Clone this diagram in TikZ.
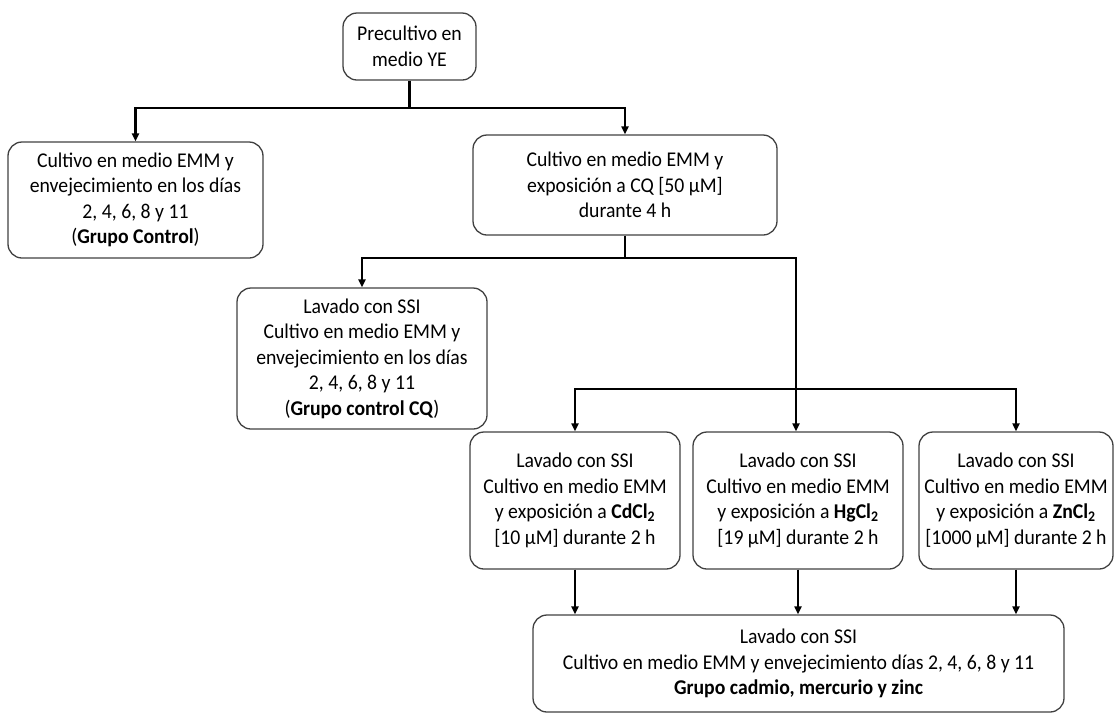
\documentclass[tikz,border=0pt]{standalone}
\usepackage{fontspec}
\setmainfont{Carlito}[FakeStretch=0.94]
\usetikzlibrary{arrows.meta}
\tikzset{
  box/.style={draw=black!75, line width=1.3pt, rounded corners=14pt, align=center,
    inner sep=0pt, font=\fontsize{21}{25.5}\selectfont},
  conn/.style={draw=black, line width=2.6pt},
  arr/.style={conn, -{Triangle[length=8pt,width=7pt]}}
}
\begin{document}
\begin{tikzpicture}[x=1pt,y=-1pt]
\useasboundingbox (0,0) rectangle (1115,713);
\node[box, minimum width=133pt, minimum height=67pt] (top) at (409.5,46.5) {Precultivo en\\medio YE};
\node[box, minimum width=255pt, minimum height=116pt] (ctrl) at (135.5,200) {Cultivo en medio EMM y\\envejecimiento en los días\\2, 4, 6, 8 y 11\\(\textbf{Grupo Control})};
\node[box, minimum width=304pt, minimum height=100pt] (cq) at (625,185) {Cultivo en medio EMM y\\exposición a CQ {[}50 µM{]}\\durante 4 h};
\node[box, minimum width=250pt, minimum height=141pt] (ctrlcq) at (362,358.5) {Lavado con SSI\\Cultivo en medio EMM y\\envejecimiento en los días\\2, 4, 6, 8 y 11\\(\textbf{Grupo control CQ})};
\node[box, minimum width=210pt, minimum height=137pt] (cd) at (575,500.5) {Lavado con SSI\\Cultivo en medio EMM\\y exposición a \textbf{CdCl\textsubscript{2}}\\{[}10 µM{]} durante 2 h};
\node[box, minimum width=210pt, minimum height=137pt] (hg) at (798,500.5) {Lavado con SSI\\Cultivo en medio EMM\\y exposición a \textbf{HgCl\textsubscript{2}}\\{[}19 µM{]} durante 2 h};
\node[box, minimum width=194pt, minimum height=137pt] (zn) at (1016,500.5) {Lavado con SSI\\Cultivo en medio EMM\\y exposición a \textbf{ZnCl\textsubscript{2}}\\{[}1000 µM{]} durante 2 h};
\node[box, minimum width=531pt, minimum height=97pt] (bot) at (798.5,663.5) {Lavado con SSI\\Cultivo en medio EMM y envejecimiento días 2, 4, 6, 8 y 11\\\textbf{Grupo cadmio, mercurio y zinc}};
% connectors
\coordinate (j1) at (409.5,108);
\draw[conn] (top.south) -- (j1);
\draw[arr] (j1) -| (ctrl.north);
\draw[arr] (j1) -| (cq.north);
\coordinate (j2) at (625,258);
\coordinate (j3) at (796,389);
\draw[conn] (cq.south) -- (j2);
\draw[arr] (j2) -| (ctrlcq.north);
\draw[conn] (j2) -| (j3);
\draw[arr] (j3) -| (cd.north);
\draw[arr] (j3) -| (zn.north);
\draw[arr] (j3) -- (j3 |- hg.north);
\draw[arr] (cd.south) -- (cd.south |- bot.north);
\draw[arr] (hg.south) -- (hg.south |- bot.north);
\draw[arr] (zn.south) -- (zn.south |- bot.north);
\end{tikzpicture}
\end{document}
